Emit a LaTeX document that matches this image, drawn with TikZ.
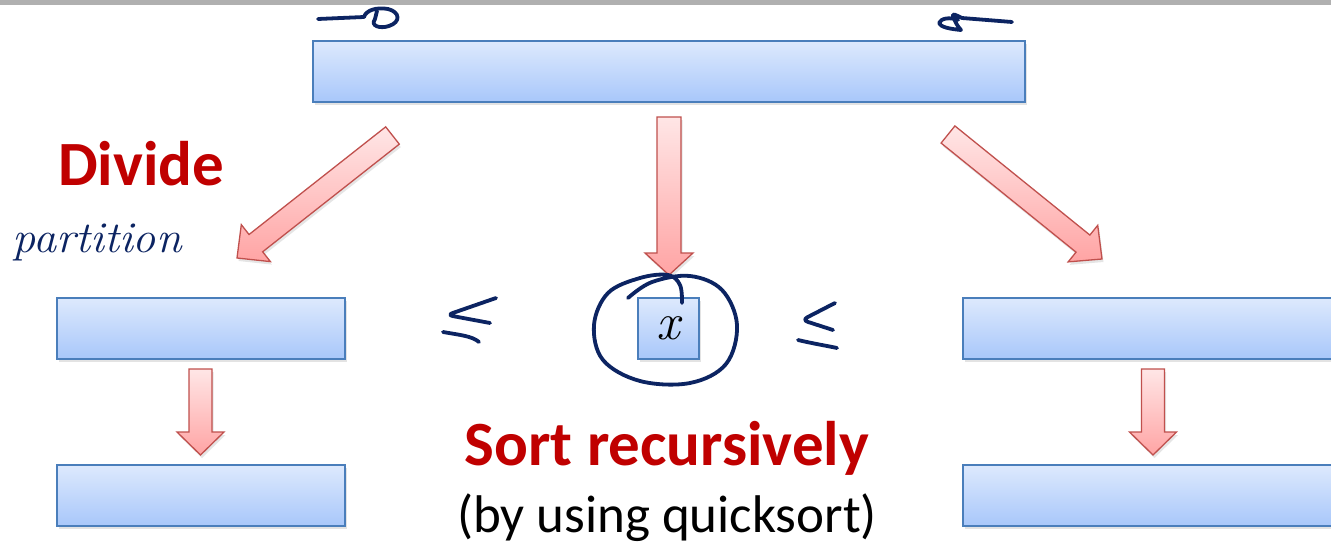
\documentclass[tikz,border=0pt]{standalone}
\usepackage{fontspec}
\newfontfamily\carlito{Carlito}
\usetikzlibrary{calc,shadows}
\definecolor{boxtop}{HTML}{DDE9FD}
\definecolor{boxbot}{HTML}{A8C7FA}
\definecolor{boxline}{HTML}{4A7EBB}
\definecolor{arrline}{HTML}{C0504D}
\definecolor{arrtop}{HTML}{FFE6E6}
\definecolor{arrbot}{HTML}{FFA4A4}
\definecolor{redtext}{HTML}{C00000}
\definecolor{navy}{HTML}{0C2462}
\definecolor{barcol}{HTML}{B0B0B0}
\tikzset{
  listbox/.style={draw=boxline, line width=1.8pt, top color=boxtop, bottom color=boxbot,
    inner sep=0pt, drop shadow={shadow xshift=1.5pt, shadow yshift=-3pt, opacity=0.22}},
  blockarrow/.style={draw=arrline, line width=1.3pt, top color=arrtop, bottom color=arrbot,
    line join=miter, drop shadow={shadow xshift=1.5pt, shadow yshift=-3pt, opacity=0.2}},
  ink/.style={draw=navy, line width=3.8pt, line cap=round, line join=round},
  bigred/.style={font=\carlito\bfseries\fontsize{63}{63}\selectfont, text=redtext, inner sep=0pt},
}
\newcommand\blockarr[5]{%
  \coordinate (#1-base) at ($(#2)!#5!(#1)$);
  \path[blockarrow] ($(#1)!#3!90:(#2)$) -- ($(#1-base)!#3!90:(#2)$) -- ($(#1-base)!#4!90:(#2)$)
    -- (#2) -- ($(#1-base)!#4!-90:(#2)$) -- ($(#1-base)!#3!-90:(#2)$) -- ($(#1)!#3!-90:(#2)$) -- cycle;
}
\begin{document}
\begin{tikzpicture}[x=1pt,y=-1pt]
\clip (0,0) rectangle (1331,546);
\fill[white] (0,0) rectangle (1331,546);
\fill[barcol] (0,0) rectangle (1331,4.5);

% boxes
\node[listbox, minimum width=712pt, minimum height=61pt] (top) at (669,71.5) {};
\node[listbox, minimum width=288pt, minimum height=61pt] (L1) at (201,328.5) {};
\node[listbox, minimum width=288pt, minimum height=61pt] (L2) at (201,495.5) {};
\node[listbox, minimum width=380pt, minimum height=61pt] (R1) at (1153,328.5) {};
\node[listbox, minimum width=380pt, minimum height=61pt] (R2) at (1153,495.5) {};
\node[listbox, minimum width=61pt, minimum height=61pt, font=\itshape\fontsize{52}{52}\selectfont] (pivot) at (668.5,328.5) {x};

% block arrows
\coordinate (ta) at (392.5,135.5); \coordinate (ha) at (237,258);
\coordinate (tb) at (669,117);     \coordinate (hb) at (669,275);
\coordinate (tc) at (948,134.5);   \coordinate (hc) at (1102,259);
\coordinate (td) at (200.5,369);   \coordinate (hd) at (200.5,455);
\coordinate (te) at (1153,369);    \coordinate (he) at (1153,455);
\blockarr{ta}{ha}{11pt}{23.5pt}{24pt}
\blockarr{tb}{hb}{12pt}{24pt}{22pt}
\blockarr{tc}{hc}{11pt}{23.5pt}{24.5pt}
\blockarr{td}{hd}{11.5pt}{23.5pt}{23pt}
\blockarr{te}{he}{11.5pt}{23.5pt}{23pt}

% texts
\node[bigred, anchor=base west] (divide) at (58,185) {Divide};
\node[bigred, anchor=base] (sortrec) at (667,465) {Sort recursively};
\node[font=\carlito\fontsize{53}{53}\selectfont, inner sep=0pt, anchor=base] (byusing) at (667,532) {(by using quicksort)};
\node[font=\itshape\fontsize{44}{44}\selectfont, text=navy, inner sep=0pt, anchor=base west, xscale=1.05] (partition) at (12,252) {partition};

% handwritten marks
\draw[ink] (318,19) -- (364,17) .. controls (366,10) and (377,7) .. (388,9)
  .. controls (400,12) and (401,22) .. (389,26) .. controls (380,29) and (370,26) .. (375,19) -- (377,11);
\draw[ink] (1012,22) -- (962,18) .. controls (956,15) and (952,13) .. (953,16)
  .. controls (955,22) and (958,27) .. (961,30) .. controls (950,29) and (940,27) .. (939,23)
  .. controls (941,18) and (950,17) .. (958,20);
% circle around the pivot
\draw[ink] plot[smooth, tension=0.6] coordinates {(628,298) (652,282) (690,276) (722,290) (737,325) (726,364) (690,383) (640,381) (603,360) (594,325) (608,293) (640,278) (668,275) (680,285) (682,303)};
% less-or-equal signs
\draw[ink, rounded corners=6pt] (496,298) -- (447,315) -- (490,323);
\draw[ink] (443,332) .. controls (460,335) and (472,336) .. (479,342);
\draw[ink, rounded corners=6pt] (835,303) -- (802,320) -- (833,330);
\draw[ink] (798,340) .. controls (815,344) and (828,346) .. (837,348);
\end{tikzpicture}
\end{document}
